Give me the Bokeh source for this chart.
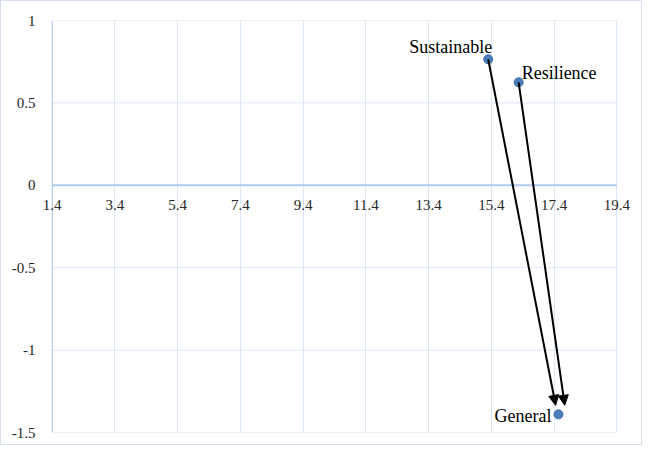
from bokeh.plotting import figure
from bokeh.models import FixedTicker, Arrow, NormalHead, ColumnDataSource, Range1d, LabelSet
from bokeh.core.properties import value
from bokeh.embed import file_html
from bokeh.resources import INLINE

# data
names = ["Sustainable", "Resilience", "General"]
xs = [15.3, 16.27, 17.54]
ys = [0.765, 0.625, -1.39]
arrow_start_x = [15.3, 16.27]
arrow_start_y = [0.765, 0.625]
arrow_end_x = [17.45, 17.74]
arrow_end_y = [-1.335, -1.335]
x_ticks = [1.4, 3.4, 5.4, 7.4, 9.4, 11.4, 13.4, 15.4, 17.4, 19.4]
x_tick_labels = ["1.4", "3.4", "5.4", "7.4", "9.4", "11.4", "13.4", "15.4", "17.4", "19.4"]
y_ticks = [-1.5, -1, -0.5, 0, 0.5, 1]
y_tick_labels = ["-1.5", "-1", "-0.5", "0", "0.5", "1"]

GRID = "#dce7f6"
AXIS = "#b3cbec"
FONT = "Liberation Serif"
TICK_COLOR = "#262626"
PAD = 0.5  # x padding so edge tick labels are not clipped

p = figure(width=642, height=445, output_backend="svg", toolbar_location=None,
           x_range=Range1d(x_ticks[0] - PAD, x_ticks[-1] + PAD), y_range=Range1d(-1.5, 1.0),
           min_border_left=35, min_border_right=11, min_border_top=19, min_border_bottom=14)
p.styles = {"border": "1px solid #d6e0ef"}
p.outline_line_color = None
p.background_fill_color = "white"

p.xgrid.ticker = FixedTicker(ticks=x_ticks)
p.xgrid.grid_line_color = GRID
p.ygrid.grid_line_color = None

# horizontal gridlines limited to the data extent
p.segment(x0=[x_ticks[0]] * len(y_ticks), x1=[x_ticks[-1]] * len(y_ticks),
          y0=y_ticks, y1=y_ticks, line_color=GRID, line_width=1)
# axis lines
p.segment(x0=[x_ticks[0]], x1=[x_ticks[-1]], y0=[0], y1=[0], line_color=AXIS, line_width=2)
p.segment(x0=[x_ticks[0]], x1=[x_ticks[0]], y0=[y_ticks[0]], y1=[y_ticks[-1]],
          line_color=AXIS, line_width=1)

p.xaxis.visible = False
tick_src = ColumnDataSource(dict(x=x_ticks, y=[0] * len(x_ticks), t=x_tick_labels))
p.add_layout(LabelSet(x="x", y="y", text="t", source=tick_src, text_align="center",
                      text_baseline="middle", y_offset=-20, text_font=value(FONT),
                      text_font_size="15px", text_color=TICK_COLOR))

ya = p.yaxis[0]
ya.ticker = FixedTicker(ticks=y_ticks)
ya.major_label_overrides = {t: l for t, l in zip(y_ticks, y_tick_labels)}
ya.axis_line_color = None
ya.major_tick_line_color = None
ya.major_tick_out = 0
ya.major_tick_in = 0
ya.minor_tick_line_color = None
ya.minor_tick_out = 0
ya.major_label_text_font = FONT
ya.major_label_text_font_size = "15px"
ya.major_label_text_color = TICK_COLOR
ya.major_label_standoff = 1

for sx, sy, ex, ey in zip(arrow_start_x, arrow_start_y, arrow_end_x, arrow_end_y):
    p.add_layout(Arrow(end=NormalHead(size=10, fill_color="black", line_color="black"),
                       x_start=sx, y_start=sy, x_end=ex, y_end=ey,
                       line_color="black", line_width=2))

src = ColumnDataSource(dict(x=xs, y=ys, name=names))
p.scatter("x", "y", source=src, size=9, fill_color="#4a7ebb", line_color="#3d6ca8")

label_align = ["right", "left", "right"]
label_dx = [4, 3, -7]
label_dy = [12, 9, -2]
for i in range(3):
    p.text(x=[xs[i]], y=[ys[i]], text=[names[i]], text_align=label_align[i],
           text_baseline="middle", x_offset=label_dx[i], y_offset=-label_dy[i],
           text_font=value(FONT), text_font_size="18px", text_color="#000000")

open("out.html", "w").write(file_html(p, INLINE))
